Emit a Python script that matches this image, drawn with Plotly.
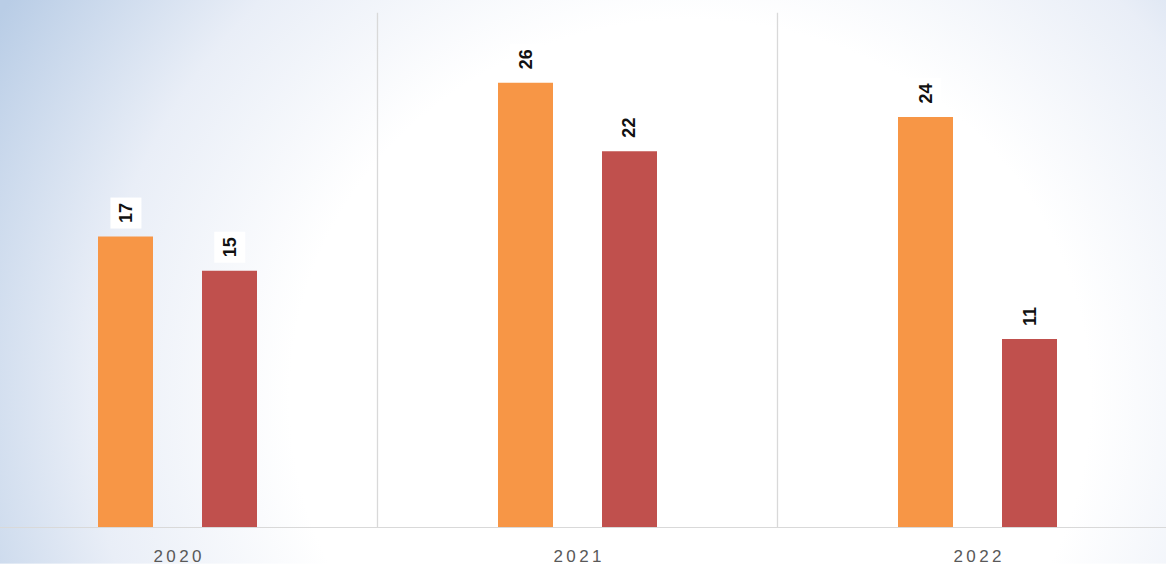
import base64
import plotly.graph_objects as go

categories = ["2020", "2021", "2022"]
series_a = [17, 26, 24]
series_b = [15, 22, 11]
color_a = "#F79646"
color_b = "#C0504D"

W, H = 1166, 566
BOTTOM = 37
PLOT_H = H - BOTTOM
BW = 0.1375
OFF = 0.13

svg = f'''<svg xmlns="http://www.w3.org/2000/svg" width="{W}" height="{H}" viewBox="0 0 {W} {H}" preserveAspectRatio="none">
<defs><radialGradient id="g" gradientUnits="userSpaceOnUse" cx="690" cy="400" r="800" gradientTransform="translate(690 400) scale(1 0.95) translate(-690 -400)">
<stop offset="0" stop-color="#ffffff"/>
<stop offset="0.5" stop-color="#ffffff"/>
<stop offset="0.75" stop-color="#e9eef7"/>
<stop offset="1" stop-color="#b9cde6"/>
</radialGradient></defs>
<rect x="0" y="0" width="{W}" height="{H}" fill="url(#g)"/>
</svg>'''
bg_uri = "data:image/svg+xml;base64," + base64.b64encode(svg.encode()).decode()

fig = go.Figure()
fig.add_trace(go.Bar(x=categories, y=series_a, width=BW, offset=-OFF - BW / 2,
                     marker=dict(color=color_a, line=dict(width=0)), name="A"))
fig.add_trace(go.Bar(x=categories, y=series_b, width=BW, offset=OFF - BW / 2,
                     marker=dict(color=color_b, line=dict(width=0)), name="B"))

annotations = []
for vals, sign in ((series_a, -1), (series_b, 1)):
    for i, v in enumerate(vals):
        annotations.append(dict(
            x=i, y=v, xref="x", yref="y", text=f"<b>{v}</b>", showarrow=False,
            textangle=-90, xshift=sign * 52, yshift=7, yanchor="bottom", xanchor="center",
            font=dict(family="Liberation Sans, Arial, sans-serif", size=18, color="#111111"),
            bgcolor="#ffffff", borderpad=5,
        ))

shapes = []
for xs in (0.5, 1.5):
    shapes.append(dict(type="line", xref="x", yref="paper", x0=xs, x1=xs, y0=0, y1=0.976,
                       line=dict(color="#d9d9d9", width=1.3), layer="below"))

ticktext = ["\u2009".join(list(c)) for c in categories]

fig.update_layout(
    width=W, height=H,
    margin=dict(l=0, r=0, t=0, b=BOTTOM, pad=0),
    paper_bgcolor="rgba(0,0,0,0)",
    plot_bgcolor="rgba(0,0,0,0)",
    barmode="overlay",
    showlegend=False,
    annotations=annotations,
    shapes=shapes,
    images=[dict(source=bg_uri, xref="paper", yref="paper", x=0, y=1,
                 sizex=1, sizey=H / PLOT_H, sizing="stretch", xanchor="left", yanchor="top",
                 layer="below")],
    xaxis=dict(type="category", range=[-0.44375, 2.47125], showgrid=False, zeroline=False,
               showline=True, linecolor="#d9d9d9", linewidth=1.3,
               tickvals=categories, ticktext=ticktext, ticks="", ticklabelstandoff=13,
               tickfont=dict(family="Liberation Sans, Arial, sans-serif", size=17, color="#595959")),
    yaxis=dict(range=[0, PLOT_H / 17.15], showgrid=False, zeroline=False, showticklabels=False,
               showline=False),
)

fig.write_html("out.html", config={"displayModeBar": False},
               post_script="document.body.style.margin='0';document.body.style.overflow='hidden';")
